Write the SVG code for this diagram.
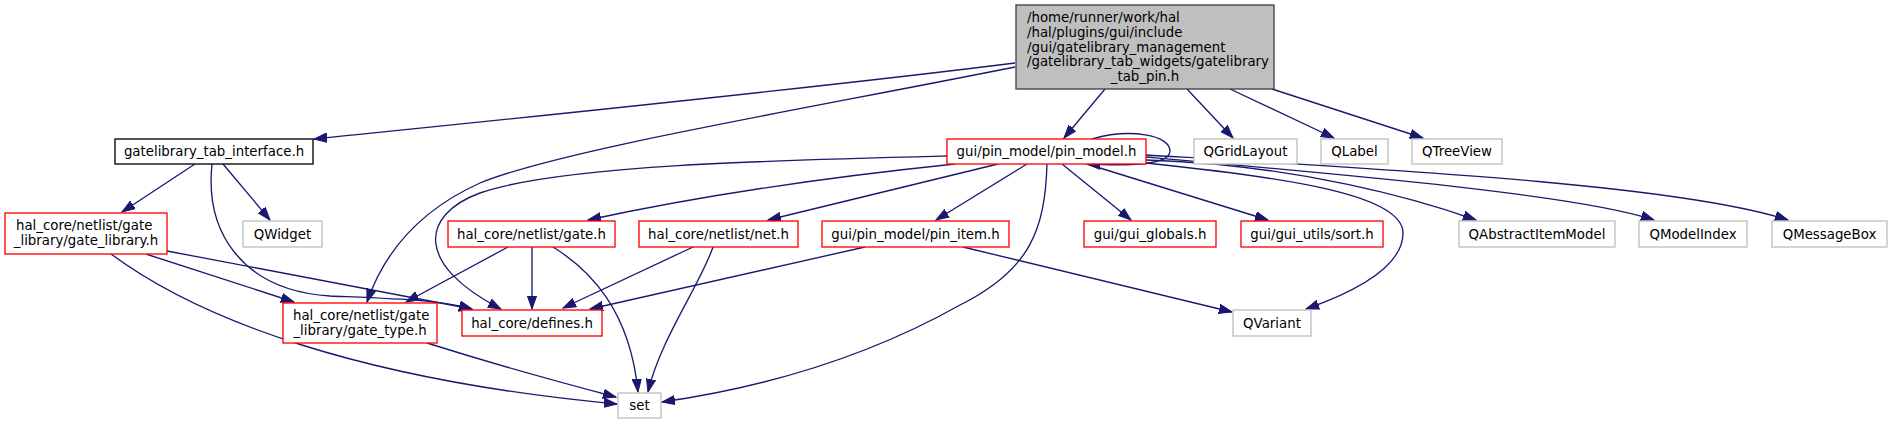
<svg xmlns="http://www.w3.org/2000/svg" width="1892" height="424" viewBox="0 0 1892 424">
<style>
.n rect{stroke-width:1.33}
.main rect{fill:#bfbfbf;stroke:#404040}
.blk rect{fill:#fff;stroke:#000}
.red rect{fill:#fff;stroke:#ff0000}
.gry rect{fill:#fff;stroke:#bfbfbf}
text{font-family:"DejaVu Sans","Liberation Sans",sans-serif;font-size:13.33px;fill:#000}
.c{text-anchor:middle}
#edges path{fill:none;stroke:#191970;stroke-width:1.33;marker-end:url(#a)}
</style>
<defs>
<marker id="a" markerWidth="16" markerHeight="12" refX="13" refY="5" orient="auto" markerUnits="userSpaceOnUse">
<path d="M0,0.4 L13,5 L0,9.6 z" fill="#191970" stroke="#191970" stroke-width="1"/>
</marker>
</defs>
<rect width="1892" height="424" fill="#fff"/>
<g id="edges">
<path d="M1015,63 C800,90 520,118 314,139"/>
<path d="M1015,67 C800,110 560,150 480,183 C420,210 385,250 367,302"/>
<path d="M1105,89 L1064,138"/>
<path d="M1187,89 L1233,138"/>
<path d="M1230,89 L1334,138"/>
<path d="M1272,89 L1423,138"/>
<path d="M195,164 L122,212"/>
<path d="M223,164 L270,220"/>
<path d="M212,164 C205,230 240,290 330,296 C400,299 440,300 472,309"/>
<path d="M146,254 L294,302"/>
<path d="M167,251 L472,309"/>
<path d="M111,254 C200,320 360,380 617,404"/>
<path d="M427,343 C500,366 570,385 616,397"/>
<path d="M508,247 L406,302"/>
<path d="M532,247 L532,309"/>
<path d="M553,247 C590,270 630,310 638,392"/>
<path d="M693,247 L563,308"/>
<path d="M713,247 C700,285 660,340 648,392"/>
<path d="M865,247 L590,309"/>
<path d="M963,247 L1232,312"/>
<path d="M947,156 C780,160 560,165 480,193 C420,215 415,265 501,309"/>
<path d="M955,164 C800,180 680,200 588,220"/>
<path d="M998,164 L768,220"/>
<path d="M1027,164 L936,220"/>
<path d="M1047,164 C1045,230 1030,270 960,305 C880,350 780,385 662,402"/>
<path d="M1062,164 L1131,220"/>
<path d="M1087,164 L1268,220"/>
<path d="M1146,163 C1290,178 1403,195 1403,233 C1403,265 1360,290 1306,309"/>
<path d="M1146,160 C1300,165 1420,200 1476,220"/>
<path d="M1146,157 C1350,175 1580,195 1654,220"/>
<path d="M1146,155 C1400,170 1680,185 1788,220"/>
<path d="M1092,139 C1130,128 1170,135 1170,151 C1170,165 1130,166 1087,164"/>
</g>
<g id="n_main" class="n main">
<rect x="1016" y="5" width="258" height="84"/>
<text x="1027" y="22.2">/home/runner/work/hal</text>
<text x="1027" y="36.9">/hal/plugins/gui/include</text>
<text x="1027" y="51.5">/gui/gatelibrary_management</text>
<text x="1027" y="66.2">/gatelibrary_tab_widgets/gatelibrary</text>
<text x="1145" y="80.8" class="c">_tab_pin.h</text>
</g>
<g id="n_tabif" class="n blk">
<rect x="115" y="139" width="198" height="25"/>
<text x="214" y="156" class="c">gatelibrary_tab_interface.h</text>
</g>
<g id="n_gatelib" class="n red">
<rect x="5" y="213" width="162" height="41"/>
<text x="16" y="230">hal_core/netlist/gate</text>
<text x="86" y="245" class="c">_library/gate_library.h</text>
</g>
<g id="n_gatetype" class="n red">
<rect x="283" y="303" width="154" height="40"/>
<text x="293" y="319.5">hal_core/netlist/gate</text>
<text x="360" y="334.5" class="c">_library/gate_type.h</text>
</g>
<g id="n_defines" class="n red">
<rect x="462" y="310" width="140" height="26"/>
<text x="532" y="327.5" class="c">hal_core/defines.h</text>
</g>
<g id="n_qwidget" class="n gry">
<rect x="243" y="221" width="79" height="26"/>
<text x="282.5" y="238.5" class="c">QWidget</text>
</g>
<g id="n_gate" class="n red">
<rect x="448" y="221" width="167" height="26"/>
<text x="531.5" y="238.5" class="c">hal_core/netlist/gate.h</text>
</g>
<g id="n_net" class="n red">
<rect x="639" y="221" width="159" height="26"/>
<text x="718.5" y="238.5" class="c">hal_core/netlist/net.h</text>
</g>
<g id="n_pinitem" class="n red">
<rect x="822" y="221" width="187" height="26"/>
<text x="915.5" y="238.5" class="c">gui/pin_model/pin_item.h</text>
</g>
<g id="n_pinmodel" class="n red">
<rect x="947" y="139" width="199" height="25"/>
<text x="1046.5" y="156" class="c">gui/pin_model/pin_model.h</text>
</g>
<g id="n_globals" class="n red">
<rect x="1084" y="221" width="132" height="26"/>
<text x="1150" y="238.5" class="c">gui/gui_globals.h</text>
</g>
<g id="n_sort" class="n red">
<rect x="1241" y="221" width="142" height="26"/>
<text x="1312" y="238.5" class="c">gui/gui_utils/sort.h</text>
</g>
<g id="n_qaim" class="n gry">
<rect x="1459" y="221" width="156" height="26"/>
<text x="1537" y="238.5" class="c">QAbstractItemModel</text>
</g>
<g id="n_qmi" class="n gry">
<rect x="1639" y="221" width="108" height="26"/>
<text x="1693" y="238.5" class="c">QModelIndex</text>
</g>
<g id="n_qmb" class="n gry">
<rect x="1772" y="221" width="115" height="26"/>
<text x="1829.5" y="238.5" class="c">QMessageBox</text>
</g>
<g id="n_qgrid" class="n gry">
<rect x="1194" y="139" width="103" height="25"/>
<text x="1245.5" y="156" class="c">QGridLayout</text>
</g>
<g id="n_qlabel" class="n gry">
<rect x="1321" y="139" width="67" height="25"/>
<text x="1354.5" y="156" class="c">QLabel</text>
</g>
<g id="n_qtree" class="n gry">
<rect x="1412" y="139" width="90" height="25"/>
<text x="1457" y="156" class="c">QTreeView</text>
</g>
<g id="n_qvariant" class="n gry">
<rect x="1233" y="310" width="78" height="26"/>
<text x="1272" y="327.5" class="c">QVariant</text>
</g>
<g id="n_set" class="n gry">
<rect x="618" y="393" width="43" height="25"/>
<text x="639.5" y="410" class="c">set</text>
</g>
</svg>
